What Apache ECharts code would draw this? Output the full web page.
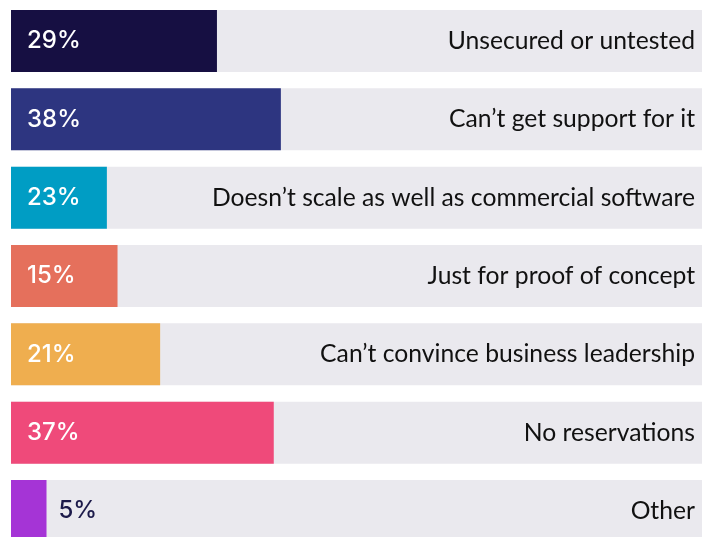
<!DOCTYPE html>
<html>
<head>
<meta charset="utf-8">
<script src="https://cdn.jsdelivr.net/npm/echarts@6/dist/echarts.min.js"></script>
<style>
html,body{margin:0;padding:0;background:#fff;}
#c{width:702px;height:537px;}
</style>
</head>
<body>
<div id="c"></div>
<script>
var categories = [
  "Unsecured or untested",
  "Can\u2019t get support for it",
  "Doesn\u2019t scale as well as commercial software",
  "Just for proof of concept",
  "Can\u2019t convince business leadership",
  "No reservations",
  "Other"
];
var pctLabels = ["29%", "38%", "23%", "15%", "21%", "37%", "5%"];
var barValues = [29, 38, 13.5, 15, 21, 37, 5];
var barColors = ["#160f42", "#2d3580", "#009dc4", "#e5705c", "#efae4f", "#ef4a7a", "#a534d6"];
var xMax = 97.3;

var chart = echarts.init(document.getElementById('c'), null, {renderer: 'canvas'});

var trackData = categories.map(function (c) { return xMax; });

var barData = barValues.map(function (v, i) {
  var small = v < 10;
  return {
    value: v,
    itemStyle: { color: barColors[i] },
    label: small ? {
      position: 'right', distance: 12, color: '#1c1a4a'
    } : {
      position: 'insideLeft', distance: 16, color: '#ffffff'
    }
  };
});

chart.setOption({
  animation: false,
  grid: { left: 11, width: 691, top: 1.8, height: 548.4, containLabel: false, outerBoundsMode: 'none' },
  xAxis: { type: 'value', min: 0, max: xMax, show: false },
  yAxis: { type: 'category', data: categories, inverse: true, show: false },
  series: [
    {
      type: 'bar',
      data: trackData,
      barWidth: 62,
      silent: true,
      itemStyle: { color: '#eae9ee' },
      label: {
        show: true,
        position: 'insideRight',
        distance: 7,
        color: '#111111',
        fontFamily: 'Lato',
        fontSize: 24.7,
        formatter: function (p) { return categories[p.dataIndex]; }
      },
      z: 1
    },
    {
      type: 'bar',
      data: barData,
      barWidth: 62,
      barGap: '-100%',
      label: {
        show: true,
        fontFamily: 'Inter',
        fontWeight: 500,
        fontSize: 24,
        formatter: function (p) { return pctLabels[p.dataIndex]; }
      },
      z: 2
    }
  ]
});
</script>
</body>
</html>
